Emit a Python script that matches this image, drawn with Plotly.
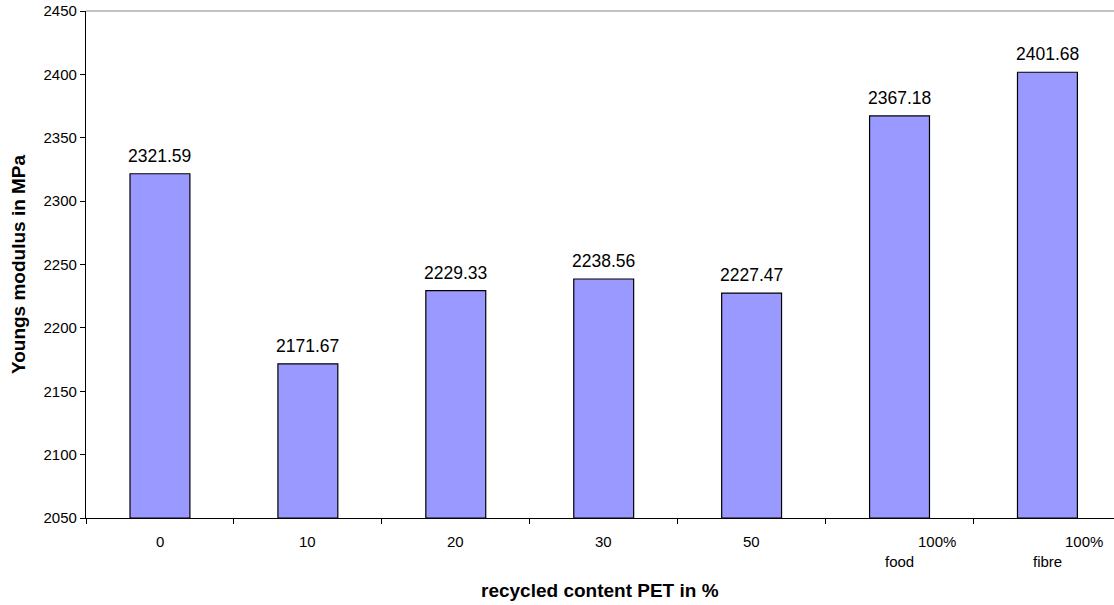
import plotly.graph_objects as go

categories = ["0", "10", "20", "30", "50", "100%|food", "100%|fibre"]
values = [2321.59, 2171.67, 2229.33, 2238.56, 2227.47, 2367.18, 2401.68]
value_labels = ["2321.59", "2171.67", "2229.33", "2238.56", "2227.47", "2367.18", "2401.68"]
y_ticks = [2050, 2100, 2150, 2200, 2250, 2300, 2350, 2400, 2450]

FONT = "Liberation Sans, Arial, Helvetica, sans-serif"
xs = list(range(len(categories)))
base = 2050

fig = go.Figure()
fig.add_trace(go.Bar(
    x=xs, y=[v - base for v in values], base=base,
    width=0.405,
    marker=dict(color="#9999FF", line=dict(color="#000000", width=1.2)),
    showlegend=False, hoverinfo="skip",
))

annotations = []
for i, (v, lab) in enumerate(zip(values, value_labels)):
    annotations.append(dict(x=i, y=v, xref="x", yref="y", text=lab, showarrow=False,
                            yanchor="bottom", yshift=6,
                            font=dict(family=FONT, size=17.5, color="#000")))
for i, c in enumerate(categories):
    if "|" in c:
        top, bot = c.split("|")
        annotations.append(dict(x=i, y=0, xref="x", yref="paper", text=top, showarrow=False,
                                yanchor="top", yshift=-13, xshift=37,
                                font=dict(family=FONT, size=15, color="#000")))
        annotations.append(dict(x=i, y=0, xref="x", yref="paper", text=bot, showarrow=False,
                                yanchor="top", yshift=-33,
                                font=dict(family=FONT, size=15, color="#000")))
    else:
        annotations.append(dict(x=i, y=0, xref="x", yref="paper", text=c, showarrow=False,
                                yanchor="top", yshift=-13,
                                font=dict(family=FONT, size=15, color="#000")))

# x-axis title
annotations.append(dict(x=0.5, y=0, xref="paper", yref="paper",
                        text="<b>recycled content PET in %</b>", showarrow=False,
                        yanchor="middle", yshift=-72,
                        font=dict(family=FONT, size=19, color="#000")))

fig.update_layout(
    width=1114, height=605,
    margin=dict(l=86, r=0, t=11, b=87),
    plot_bgcolor="white", paper_bgcolor="white",
    font=dict(family=FONT, size=15, color="#000"),
    xaxis=dict(
        range=[-0.5, 6.45],
        tickmode="array", tickvals=[i - 0.5 for i in range(len(categories) + 1)],
        ticktext=[""] * (len(categories) + 1),
        ticks="outside", ticklen=5, tickwidth=1, tickcolor="#000",
        showline=True, linecolor="#000", linewidth=1.2,
        showgrid=False, zeroline=False,
    ),
    yaxis=dict(
        range=[2050, 2450],
        tickmode="array", tickvals=y_ticks,
        ticks="outside", ticklen=5, tickwidth=1, tickcolor="#000",
        showline=True, linecolor="#000", linewidth=1.2,
        showgrid=False, zeroline=False,
        tickfont=dict(family=FONT, size=15, color="#000"),
        title=dict(text="<b>Youngs modulus in MPa</b>", standoff=12,
                   font=dict(family=FONT, size=19, color="#000")),
    ),
    annotations=annotations,
    shapes=[dict(type="line", xref="paper", yref="paper", x0=0, x1=1, y0=1, y1=1,
                 line=dict(color="#888888", width=1.2))],
)

fig.write_html("out.html")
